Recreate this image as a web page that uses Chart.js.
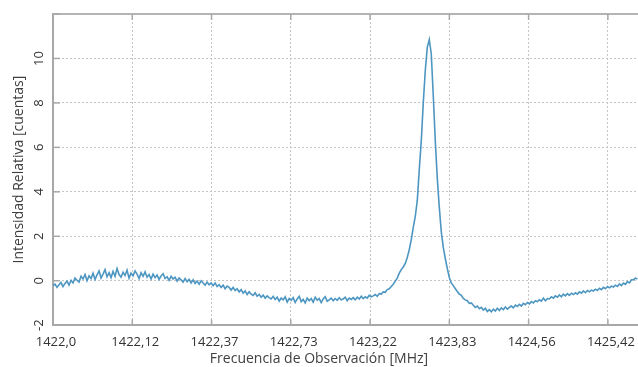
<!DOCTYPE html>
<html>
<head>
<meta charset="utf-8">
<script src="https://cdn.jsdelivr.net/npm/chart.js@4"></script>
<style>
  html, body { margin: 0; padding: 0; background: #fff; }
  #wrap { width: 638px; height: 367px; }
</style>
</head>
<body>
<div id="wrap"><canvas id="myChart"></canvas></div>
<script>
// etiquetas del eje x (una por cada linea de la rejilla)
const xLabels = ['1422,0', '1422,12', '1422,37', '1422,73', '1423,22', '1423,83', '1424,56', '1425,42'];
const yTicks = [-2, 0, 2, 4, 6, 8, 10];
// paso entre muestras, en unidades de la rejilla x
const sampleStep = 0.02525;
// intensidad relativa, muestra a muestra
const intensidad = [
  -0.22, -0.15, -0.3, -0.18, -0.08, -0.26, -0.12, -0.02, -0.2, 0.02,
  -0.1, 0.12, 0.02, -0.06, 0.2, 0.08, 0.28, 0.0, 0.22, 0.1,
  0.34, 0.06, 0.26, 0.44, 0.12, 0.3, 0.5, 0.18, 0.36, 0.14,
  0.42, 0.2, 0.55, 0.28, 0.16, 0.38, 0.24, 0.48, 0.12, 0.34,
  0.22, 0.44, 0.3, 0.1, 0.36, 0.2, 0.4, 0.16, 0.28, 0.08,
  0.3, 0.14, 0.26, 0.06, 0.22, 0.32, 0.1, 0.18, 0.02, 0.2,
  0.08, 0.16, -0.02, 0.12, 0.04, -0.06, 0.1, -0.04, 0.06, -0.1,
  0.04, -0.12, -0.02, -0.16, 0.0, -0.1, -0.2, -0.06, -0.18, -0.1,
  -0.22, -0.1, -0.26, -0.18, -0.3, -0.2, -0.36, -0.24, -0.3, -0.42,
  -0.3, -0.44, -0.36, -0.5, -0.4, -0.56, -0.46, -0.62, -0.5, -0.6,
  -0.66, -0.54, -0.7, -0.62, -0.74, -0.64, -0.78, -0.68, -0.76, -0.82,
  -0.7, -0.84, -0.74, -0.92, -0.78, -0.86, -0.72, -0.96, -0.8, -0.88,
  -0.76, -0.98, -0.82, -0.7, -0.94, -0.84, -1.0, -0.78, -0.9, -0.8,
  -0.96, -0.74, -0.88, -0.8, -0.98, -0.82, -0.72, -0.92, -0.86, -0.78,
  -0.9, -0.8, -0.88, -0.76, -0.86, -0.82, -0.74, -0.9, -0.78, -0.84,
  -0.76, -0.86, -0.74, -0.82, -0.7, -0.8, -0.72, -0.78, -0.66, -0.72,
  -0.68, -0.62, -0.7, -0.58, -0.6, -0.5, -0.52, -0.4, -0.36, -0.26,
  -0.16, -0.02, 0.12, 0.34, 0.5, 0.62, 0.78, 1.05, 1.4, 1.85,
  2.4, 2.9, 3.6, 5.0, 6.3, 8.0, 9.46, 10.5, 10.85, 10.2,
  8.3, 6.3, 4.6, 3.3, 2.2, 1.5, 1.0, 0.55, 0.15, -0.1,
  -0.22, -0.36, -0.48, -0.6, -0.66, -0.8, -0.86, -0.9, -1.02, -1.0,
  -1.1, -1.2, -1.14, -1.26, -1.2, -1.32, -1.24, -1.38, -1.3, -1.4,
  -1.28, -1.36, -1.24, -1.34, -1.22, -1.3, -1.18, -1.28, -1.2, -1.14,
  -1.22, -1.1, -1.16, -1.06, -1.14, -1.02, -1.08, -0.98, -1.04, -0.94,
  -1.0, -0.9, -0.94, -0.86, -0.92, -0.78, -0.9, -0.8, -0.82, -0.72,
  -0.78, -0.68, -0.74, -0.64, -0.72, -0.6, -0.68, -0.58, -0.66, -0.56,
  -0.62, -0.54, -0.6, -0.5, -0.56, -0.46, -0.54, -0.44, -0.5, -0.42,
  -0.46, -0.38, -0.44, -0.34, -0.4, -0.3, -0.36, -0.26, -0.32, -0.24,
  -0.28, -0.2, -0.26, -0.14, -0.22, -0.1, -0.16, -0.04, -0.1, 0.04,
  0.05, 0.12, 0.08
];

const puntos = intensidad.map((v, i) => ({ x: i * sampleStep, y: v }));

// borde superior y marcas interiores de los ejes
const marcoPlugin = {
  id: 'marco',
  afterDraw(chart) {
    const { ctx, chartArea: a, scales } = chart;
    ctx.save();
    ctx.strokeStyle = '#b4b4b4';
    ctx.lineWidth = 2;
    ctx.beginPath();
    ctx.moveTo(a.left, a.top);
    ctx.lineTo(a.right, a.top);
    ctx.stroke();
    ctx.lineWidth = 1.5;
    ctx.strokeStyle = '#a8a8a8';
    scales.x.ticks.forEach(t => {
      const px = scales.x.getPixelForValue(t.value);
      if (px <= a.left + 1) return;
      ctx.beginPath();
      ctx.moveTo(px, a.bottom); ctx.lineTo(px, a.bottom - 6);
      ctx.moveTo(px, a.top); ctx.lineTo(px, a.top + 6);
      ctx.stroke();
    });
    scales.y.ticks.forEach(t => {
      const py = scales.y.getPixelForValue(t.value);
      ctx.beginPath();
      ctx.moveTo(a.left, py); ctx.lineTo(a.left + 7, py);
      ctx.stroke();
    });
    ctx.restore();
  }
};

const ctx = document.getElementById('myChart').getContext('2d');
const myChart = new Chart(ctx, {
  type: 'line',
  data: {
    datasets: [{
      label: 'Intensidad',
      data: puntos,
      borderColor: '#4d96c2',
      borderWidth: 1.6,
      pointRadius: 0,
      tension: 0,
      fill: false
    }]
  },
  options: {
    responsive: true,
    maintainAspectRatio: false,
    animation: false,
    layout: { padding: { top: 14, right: 0, left: 0, bottom: 0 } },
    plugins: {
      legend: { display: false },
      tooltip: { enabled: false },
      title: {
        display: true,
        position: 'bottom',
        text: 'Frecuencia de Observación [MHz]',
        color: '#404040',
        font: { family: 'Open Sans', size: 14, weight: 'normal', lineHeight: 1.2 },
        padding: { top: 1, bottom: 0 }
      }
    },
    scales: {
      x: {
        type: 'linear',
        min: 0,
        max: 7.38,
        afterFit: s => { s.height = 24; s.paddingLeft = 0; s.paddingRight = 0; },
        grid: { color: '#c4c4c4', lineWidth: 1, drawTicks: false },
        border: { color: '#a8a8a8', width: 2, dash: [2, 2] },
        ticks: {
          stepSize: 1,
          includeBounds: false,
          autoSkip: false,
          maxRotation: 0,
          padding: 9,
          labelOffset: 3,
          color: '#333',
          font: { family: 'Open Sans', size: 13 },
          callback: v => Number.isInteger(v) ? xLabels[v] : ''
        }
      },
      y: {
        min: -2,
        max: 12,
        afterFit: s => { s.width = 53; },
        grid: { color: '#c4c4c4', lineWidth: 1, drawTicks: false },
        border: { color: '#a8a8a8', width: 2, dash: [2, 2] },
        ticks: {
          stepSize: 2,
          minRotation: 90,
          maxRotation: 90,
          crossAlign: 'center',
          padding: 6,
          color: '#333',
          font: { family: 'Open Sans', size: 13 },
          callback: v => yTicks.includes(v) ? String(v) : ''
        },
        title: {
          display: true,
          text: 'Intensidad Relativa [cuentas]',
          color: '#404040',
          font: { family: 'Open Sans', size: 14, lineHeight: 1.2 },
          padding: { top: 11, bottom: 0 }
        }
      }
    }
  },
  plugins: [marcoPlugin]
});
</script>
</body>
</html>
